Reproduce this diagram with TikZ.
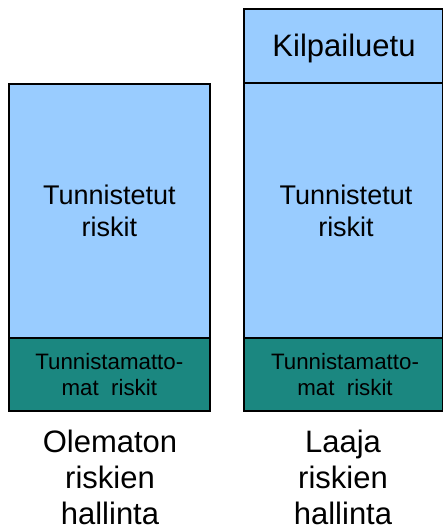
\documentclass[tikz,border=0pt]{standalone}
\usepackage{fontspec}
\setmainfont{Liberation Sans}
\definecolor{lblue}{HTML}{99CCFF}
\definecolor{tealbox}{RGB}{27,135,128}
\begin{document}
\begin{tikzpicture}[x=1pt,y=-1pt,
  box/.style={draw=black,line width=2pt},
  bigtxt/.style={align=center,inner sep=0pt,font=\fontsize{27}{32.4}\selectfont},
  toptxt/.style={inner sep=0pt,font=\fontsize{31}{37}\selectfont},
  smalltxt/.style={align=center,inner sep=0pt,font=\fontsize{22.3}{26}\selectfont},
  labeltxt/.style={align=center,inner sep=0pt,font=\fontsize{31}{36}\selectfont}]
\useasboundingbox (0,0) rectangle (443,532);
% left column
\draw[box,fill=lblue] (9,84.5) rectangle (209.5,337.5);
\draw[box,fill=tealbox] (9,337.5) rectangle (209.5,411);
% right column
\draw[box,fill=lblue] (244,9) rectangle (443,83);
\draw[box,fill=lblue] (244,83) rectangle (443,337.5);
\draw[box,fill=tealbox] (244,337.5) rectangle (443,411);
% texts
\node[bigtxt] (lknown) at (109.3,211) {Tunnistetut\\riskit};
\node[smalltxt] (lunknown) at (109.3,374.5) {Tunnistamatto-\\mat\ \ riskit};
\node[labeltxt] (llabel) at (110,477) {Olematon\\riskien\\hallinta};
\node[toptxt,anchor=base] (rcomp) at (344,57) {Kilpailuetu};
\node[bigtxt] (rknown) at (346,211) {Tunnistetut\\riskit};
\node[smalltxt] (runknown) at (345,374.5) {Tunnistamatto-\\mat\ \ riskit};
\node[labeltxt] (rlabel) at (343,477) {Laaja\\riskien\\hallinta};
\end{tikzpicture}
\end{document}
